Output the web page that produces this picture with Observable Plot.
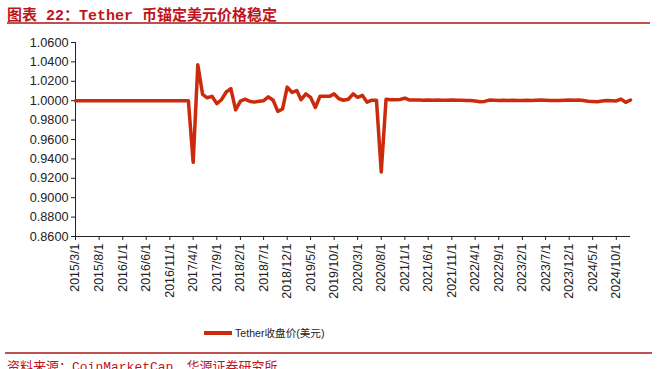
<!DOCTYPE html>
<html>
<head>
<meta charset="utf-8">
<script src="https://cdn.jsdelivr.net/npm/d3@7"></script>
<script src="https://cdn.jsdelivr.net/npm/@observablehq/plot@0.6"></script>
<style>
  html, body { margin: 0; padding: 0; background: #fff; }
  #wrap { position: relative; width: 657px; height: 369px; overflow: hidden; background: #fff; }
  #title { position: absolute; left: 7px; top: 3px; font: bold 15px "Liberation Mono", "Noto Sans CJK SC", monospace; color: #c0141c; white-space: nowrap; }
  #rule1 { position: absolute; left: 7px; top: 22px; width: 643px; height: 2px; background: #c0504d; }
  #chart { position: absolute; left: 0; top: 30px; }
  #legend { position: absolute; left: 204px; top: 325px; font: 10.6px "Liberation Sans", "Noto Sans CJK SC", sans-serif; color: #222; display: flex; align-items: center; white-space: nowrap; }
  #legend .sw { width: 28px; height: 4px; background: #cc2a0c; margin-right: 3px; }
  #rule2 { position: absolute; left: 5px; top: 352px; width: 647px; height: 2px; background: #c0504d; }
  #caption { position: absolute; left: 7px; top: 356px; font: 13px "Liberation Mono", "Noto Sans CJK SC", monospace; color: #c0141c; white-space: nowrap; }
</style>
</head>
<body>
<div id="wrap">
  <div id="title">图表 22：Tether 币锚定美元价格稳定</div>
  <div id="rule1"></div>
  <div id="chart"></div>
  <div id="legend"><div class="sw"></div><span>Tether收盘价(美元)</span></div>
  <div id="rule2"></div>
  <div id="caption">资料来源：CoinMarketCap，华源证券研究所</div>
</div>
<script>
// Monthly closing prices, 2015/3 .. 2025/1
const startMonth = "2015-03-01";
const endMonth = "2025-01-01";
const prices = [
  // 2015/3 - 2017/2
  1.0000, 1.0000, 1.0000, 1.0000, 1.0000, 1.0000, 1.0000, 1.0000, 1.0000, 1.0000, 1.0000, 1.0000,
  1.0000, 1.0000, 1.0000, 1.0000, 1.0000, 1.0000, 1.0000, 1.0000, 1.0000, 1.0000, 1.0000, 1.0000,
  // 2017/3 - 2020/9
  1.0000, 0.9365, 1.0370, 1.0065, 1.0030, 1.0045, 0.9970, 1.0010, 1.0090, 1.0125, 0.9905, 0.9995,
  1.0015, 0.9995, 0.9985, 0.9995, 1.0000, 1.0040, 1.0005, 0.9890, 0.9915, 1.0140, 1.0085, 1.0105,
  1.0010, 1.0070, 1.0035, 0.9930, 1.0045, 1.0045, 1.0045, 1.0070, 1.0020, 1.0005, 1.0015, 1.0070,
  1.0035, 1.0055, 0.9985, 1.0005, 1.0005, 0.9265, 1.0015,
  // 2020/10 - 2025/1
  1.0010, 1.0010, 1.0012, 1.0027, 1.0007, 1.0006, 1.0008, 1.0005, 1.0006, 1.0004, 1.0007, 1.0005,
  1.0004, 1.0006, 1.0004, 1.0005, 1.0003, 1.0002, 0.9996, 0.9990, 0.9993, 1.0006, 1.0004, 1.0003,
  1.0004, 1.0003, 1.0004, 1.0002, 1.0003, 1.0004, 1.0003, 1.0005, 1.0006, 1.0004, 1.0003, 1.0002,
  1.0003, 1.0005, 1.0007, 1.0005, 1.0008, 1.0003, 0.9995, 0.9993, 0.9990, 0.9997, 1.0001, 1.0000,
  0.9997, 1.0017, 0.9983, 1.0007
];
const xTickLabels = [
  "2015/3/1", "2015/8/1", "2016/1/1", "2016/6/1", "2016/11/1", "2017/4/1", "2017/9/1", "2018/2/1",
  "2018/7/1", "2018/12/1", "2019/5/1", "2019/10/1", "2020/3/1", "2020/8/1", "2021/1/1", "2021/6/1",
  "2021/11/1", "2022/4/1", "2022/9/1", "2023/2/1", "2023/7/1", "2023/12/1", "2024/5/1", "2024/10/1"
];
const yTicks = [0.86, 0.88, 0.90, 0.92, 0.94, 0.96, 0.98, 1.00, 1.02, 1.04, 1.06];
const seriesName = "Tether收盘价(美元)";

const months = d3.utcMonth.range(new Date(startMonth), d3.utcMonth.offset(new Date(endMonth), 1));
const data = months.map((d, i) => ({date: d, price: prices[i]}));
const parseLabel = s => { const [y, m, d] = s.split("/").map(Number); return new Date(Date.UTC(y, m - 1, d)); };
const xTicks = xTickLabels.map(parseLabel);
const fmtDate = d => `${d.getUTCFullYear()}/${d.getUTCMonth() + 1}/${d.getUTCDate()}`;

const chart = Plot.plot({
  width: 657,
  height: 280,
  marginLeft: 75,
  marginRight: 27,
  marginTop: 12,
  marginBottom: 74,
  style: {fontFamily: "'Liberation Sans', Arial, sans-serif", fontSize: "12px", color: "#222", background: "transparent"},
  x: {type: "utc", domain: [new Date(startMonth), new Date(endMonth)], label: null},
  y: {domain: [0.86, 1.06], label: null},
  marks: [
    Plot.axisX({ticks: xTicks, tickFormat: fmtDate, tickRotate: -90, tickSize: 4, tickPadding: 3, fontSize: 12.4, label: null, stroke: "#222"}),
    Plot.axisY({ticks: yTicks, tickFormat: d3.format(".4f"), tickSize: 4, tickPadding: 3, fontSize: 12.7, label: null, stroke: "#222"}),
    Plot.ruleY([0.86], {stroke: "#222", strokeWidth: 1}),
    Plot.ruleX([new Date(startMonth)], {stroke: "#222", strokeWidth: 1}),
    Plot.line(data, {x: "date", y: "price", stroke: "#cc2a0c", strokeWidth: 3.5, strokeLinejoin: "round", title: () => seriesName})
  ]
});
document.getElementById("chart").appendChild(chart);
</script>
</body>
</html>
